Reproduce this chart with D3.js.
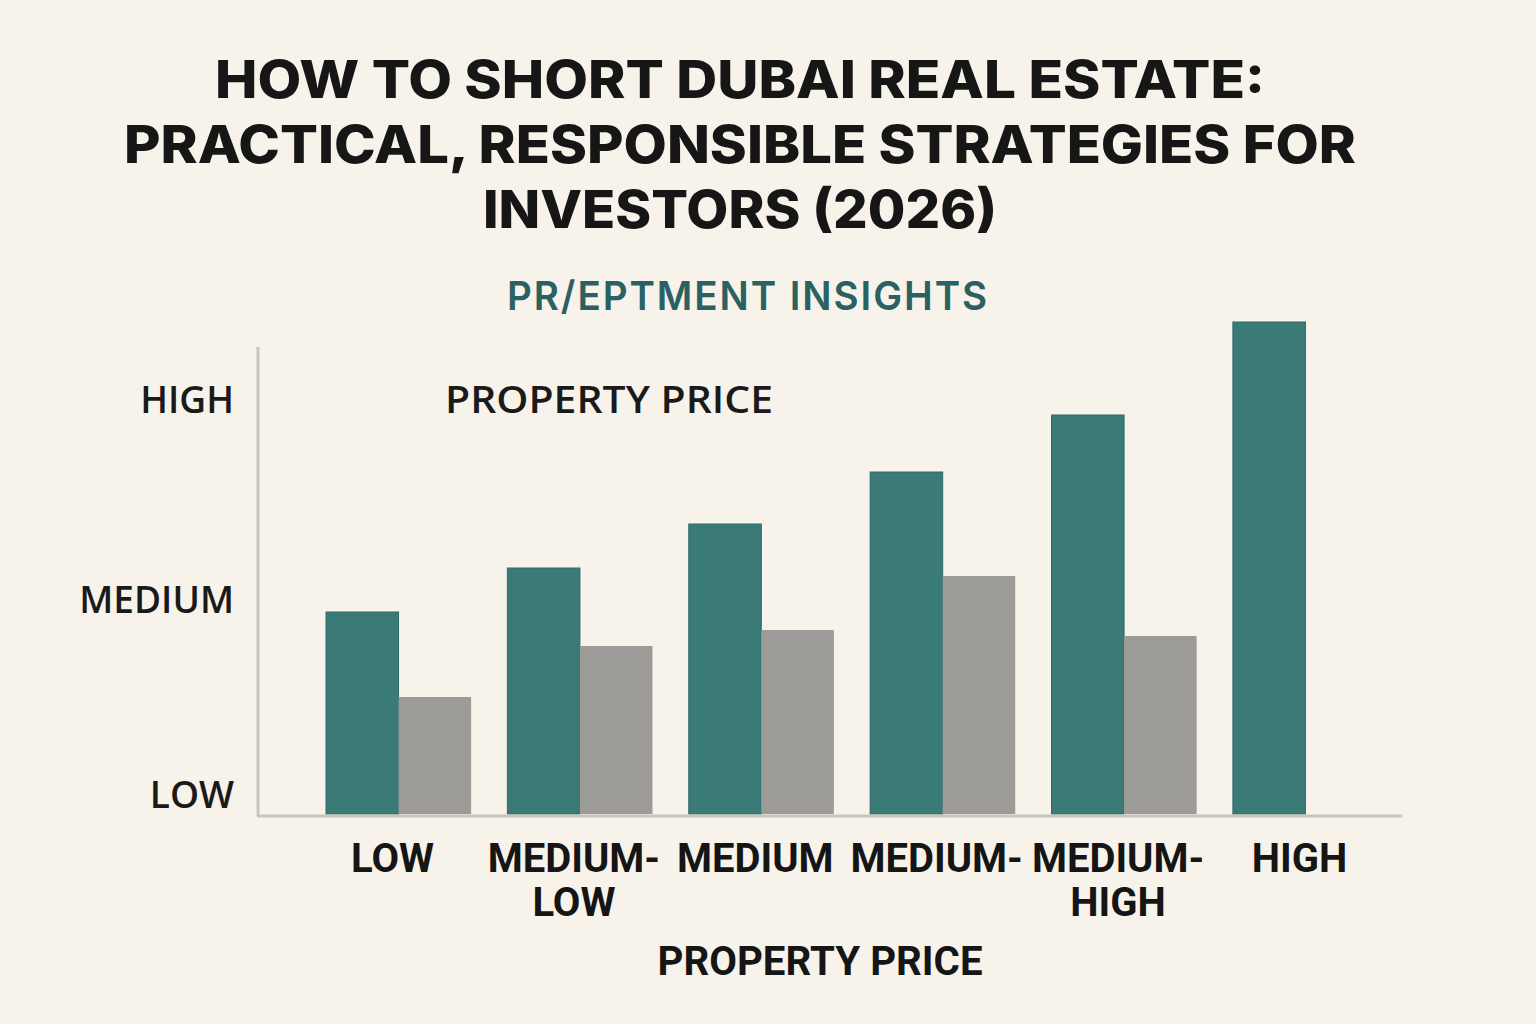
<!DOCTYPE html>
<html>
<head>
<meta charset="utf-8">
<script src="https://cdn.jsdelivr.net/npm/d3@7"></script>
<style>
  html, body { margin: 0; padding: 0; background: #f8f3ea; }
  svg { display: block; }
</style>
</head>
<body>
<svg id="chart"></svg>
<script>
const titleLines = ["HOW TO SHORT DUBAI REAL ESTATE:", "PRACTICAL, RESPONSIBLE STRATEGIES FOR", "INVESTORS (2026)"];
const subtitle = "PR/EPTMENT INSIGHTS";
const categories = ["low", "medium-low", "medium", "medium-", "medium-high", "high"];
const categoryLabels = [["LOW"], ["MEDIUM-", "LOW"], ["MEDIUM"], ["MEDIUM-"], ["MEDIUM-", "HIGH"], ["HIGH"]];
const tealValues = [40.4, 49.2, 58, 68.4, 79.8, 98.4];
const grayValues = [23.4, 33.6, 36.8, 47.6, 35.6, null];
const yTickValues = [4, 43, 83];
const yTickLabels = ["LOW", "MEDIUM", "HIGH"];
const innerLabel = "PROPERTY PRICE";
const xTitle = "PROPERTY PRICE";

const width = 1536, height = 1024;
const svg = d3.select("#chart").attr("width", width).attr("height", height);

svg.append("rect").attr("width", width).attr("height", height).attr("fill", "#f8f3ea");

// title
const titleW = [1050, 1232, 514];
svg.append("g").selectAll("text")
    .data(titleLines)
    .enter()
    .append("text")
    .attr("x", 740)
    .attr("y", (d, i) => 98 + i * 65)
    .attr("text-anchor", "middle")
    .attr("font-family", "Inter, 'Liberation Sans', sans-serif")
    .attr("font-weight", 800)
    .attr("font-size", "52px")
    .attr("fill", "#161616")
    .attr("textLength", (d, i) => titleW[i])
    .attr("lengthAdjust", "spacingAndGlyphs")
    .text(d => d);

svg.append("text")
    .attr("x", 748)
    .attr("y", 310)
    .attr("text-anchor", "middle")
    .attr("font-family", "Inter, 'Liberation Sans', sans-serif")
    .attr("font-weight", 600)
    .attr("font-size", "40px")
    .attr("letter-spacing", "2px")
    .attr("fill", "#2b6163")
    .attr("textLength", 482)
    .attr("lengthAdjust", "spacingAndGlyphs")
    .text(subtitle);

// scales
const baseY = 814;
const y = d3.scaleLinear().domain([0, 100]).range([baseY, 314]);

const x = d3.scaleBand()
    .domain(categories)
    .range([326, 1378])
    .paddingInner(0.2)
    .paddingOuter(0);

const sub = d3.scaleBand()
    .domain(["teal", "gray"])
    .range([0, x.bandwidth()]);

const colors = { teal: "#3a7a77", gray: "#9d9b97" };

const rows = categories.map((c, i) => ({
    cat: c,
    values: [
        { key: "teal", value: tealValues[i] },
        { key: "gray", value: grayValues[i] }
    ].filter(v => v.value != null)
}));

const groups = svg.append("g").selectAll("g")
    .data(rows)
    .enter()
    .append("g")
    .attr("transform", d => `translate(${x(d.cat)},0)`);

groups.selectAll("rect")
    .data(d => d.values)
    .enter()
    .append("rect")
    .attr("x", d => sub(d.key))
    .attr("y", d => y(d.value))
    .attr("width", sub.bandwidth())
    .attr("height", d => baseY - y(d.value))
    .attr("fill", d => colors[d.key])
    .attr("stroke", d => d.key === "teal" ? "#2f6a67" : "none")
    .attr("stroke-width", 1);

// axis lines
svg.append("line")
    .attr("x1", 258).attr("x2", 258)
    .attr("y1", 347).attr("y2", 816)
    .attr("stroke", "#c9c5ba").attr("stroke-width", 3);

svg.append("line")
    .attr("x1", 257).attr("x2", 1402)
    .attr("y1", 816).attr("y2", 816)
    .attr("stroke", "#c9c5ba").attr("stroke-width", 3);

// y axis labels
const yAxis = svg.append("g")
    .attr("transform", "translate(234,0)")
    .call(d3.axisLeft(y)
        .tickValues(yTickValues)
        .tickSize(0)
        .tickPadding(0)
        .tickFormat((d, i) => yTickLabels[i]));
yAxis.select(".domain").remove();
yAxis.selectAll("text")
    .attr("font-family", "'Open Sans', sans-serif")
    .attr("font-weight", 600)
    .attr("font-size", "37px")
    .attr("fill", "#1a1a1a")
    .attr("dy", "0.36em");

svg.append("text")
    .attr("x", 445)
    .attr("y", 413)
    .attr("font-family", "'Open Sans', sans-serif")
    .attr("font-weight", 600)
    .attr("font-size", "38px")
    .attr("fill", "#1a1a1a")
    .attr("textLength", 328)
    .attr("lengthAdjust", "spacingAndGlyphs")
    .text(innerLabel);

// x labels
const xLab = svg.append("g").selectAll("text")
    .data(rows)
    .enter()
    .append("text")
    .attr("x", d => x(d.cat) + x.bandwidth() / 2 - 6)
    .attr("y", 872)
    .attr("text-anchor", "middle")
    .attr("font-family", "Roboto, sans-serif")
    .attr("font-weight", 700)
    .attr("font-size", "40px")
    .attr("fill", "#151515");

xLab.selectAll("tspan")
    .data((d, i) => categoryLabels[i])
    .enter()
    .append("tspan")
    .attr("x", function () { return d3.select(this.parentNode).attr("x"); })
    .attr("dy", (d, i) => i === 0 ? 0 : 44)
    .text(d => d);

svg.append("text")
    .attr("x", 820)
    .attr("y", 975)
    .attr("text-anchor", "middle")
    .attr("font-family", "Roboto, sans-serif")
    .attr("font-weight", 700)
    .attr("font-size", "41px")
    .attr("fill", "#151515")
    .attr("textLength", 325)
    .attr("lengthAdjust", "spacingAndGlyphs")
    .text(xTitle);
</script>
</body>
</html>
